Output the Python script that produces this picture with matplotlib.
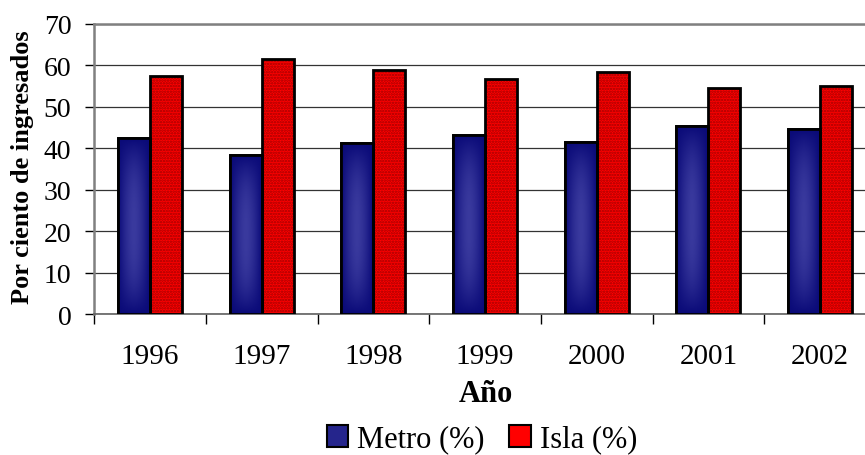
import numpy as np
import matplotlib
matplotlib.use("Agg")
import matplotlib.pyplot as plt
from matplotlib.colors import LinearSegmentedColormap
from matplotlib.patches import Patch

plt.rcParams['font.family'] = ['Liberation Serif', 'DejaVu Serif']
plt.rcParams['hatch.linewidth'] = 1.2

years = ['1996', '1997', '1998', '1999', '2000', '2001', '2002']
metro = [42.4, 38.3, 41.2, 43.2, 41.6, 45.4, 44.6]
isla = [57.4, 61.6, 58.8, 56.7, 58.4, 54.5, 55.1]

fig = plt.figure(figsize=(8.65, 4.56), dpi=100)
ax = fig.add_axes([0.109, 0.3086, 0.9037, 0.6366])

x = np.arange(len(years))
w = 0.2865

# blue bars with a soft glow in the middle
blue = ax.bar(x - w / 2, metro, w, color='#10107e', edgecolor='black', linewidth=2, zorder=3)
cmap = LinearSegmentedColormap.from_list('metro', ['#0a0a78', '#3a3a9e'])
u = np.linspace(-1, 1, 60)
v = np.linspace(-1, 1, 200)
U, V = np.meshgrid(u, v)
glow = (1 - np.abs(U) ** 1.6) * (1 - np.abs(V) ** 2.5)
for p in blue:
    x0, y0 = p.get_x(), p.get_y()
    im = ax.imshow(glow, cmap=cmap, aspect='auto', zorder=3.5,
                   extent=[x0, x0 + p.get_width(), y0, y0 + p.get_height()])
    im.set_clip_path(p)
ax.bar(x - w / 2, metro, w, fill=False, edgecolor='black', linewidth=2, zorder=4)

# red bars, dotted texture
ax.bar(x + w / 2, isla, w, color='#ff0000', edgecolor='#a00000', linewidth=0,
       hatch='......', zorder=3)
ax.bar(x + w / 2, isla, w, fill=False, edgecolor='black', linewidth=2, zorder=4)

ax.set_xlim(-0.5, len(years) - 0.5)
ax.set_ylim(0, 70)
ax.set_yticks(range(0, 71, 10))
ax.yaxis.grid(True, color='#333333', linewidth=0.9, zorder=1)
ax.set_axisbelow(True)

ax.set_xticks(x)
ax.set_xticklabels(years)
ax.set_xticks(np.arange(-0.5, len(years)), minor=True)
ax.tick_params(axis='x', which='major', length=0, pad=21, labelsize=21)
ax.tick_params(axis='x', which='minor', length=7, width=1, color='black', direction='out')
ax.tick_params(axis='y', length=6.5, width=1, color='black', pad=10, labelsize=20)

for s in ['left', 'top']:
    ax.spines[s].set_color('#808080')
    ax.spines[s].set_linewidth(1.8)
ax.spines['bottom'].set_color('#606060')
ax.spines['bottom'].set_linewidth(1.2)
ax.spines['right'].set_visible(False)

fig.text(23 / 865, 1 - 167 / 456, 'Por ciento de ingresados', rotation=90,
         ha='center', va='center', fontsize=19, fontweight='bold')
fig.text(486 / 865, 1 - 395 / 456, 'Año', ha='center', va='center',
         fontsize=22, fontweight='bold')

handles = [Patch(facecolor='#25258c', edgecolor='black', linewidth=1.5, label='Metro (%)'),
           Patch(facecolor='#ff0000', edgecolor='black', linewidth=1.5, label='Isla (%)')]
fig.legend(handles=handles, loc='center', bbox_to_anchor=(482 / 865, 1 - 440 / 456),
           ncol=2, frameon=False, fontsize=22, handlelength=0.7, handleheight=0.7,
           handletextpad=0.3, columnspacing=0.8, borderaxespad=0)

fig.savefig('out.png', dpi=100)
